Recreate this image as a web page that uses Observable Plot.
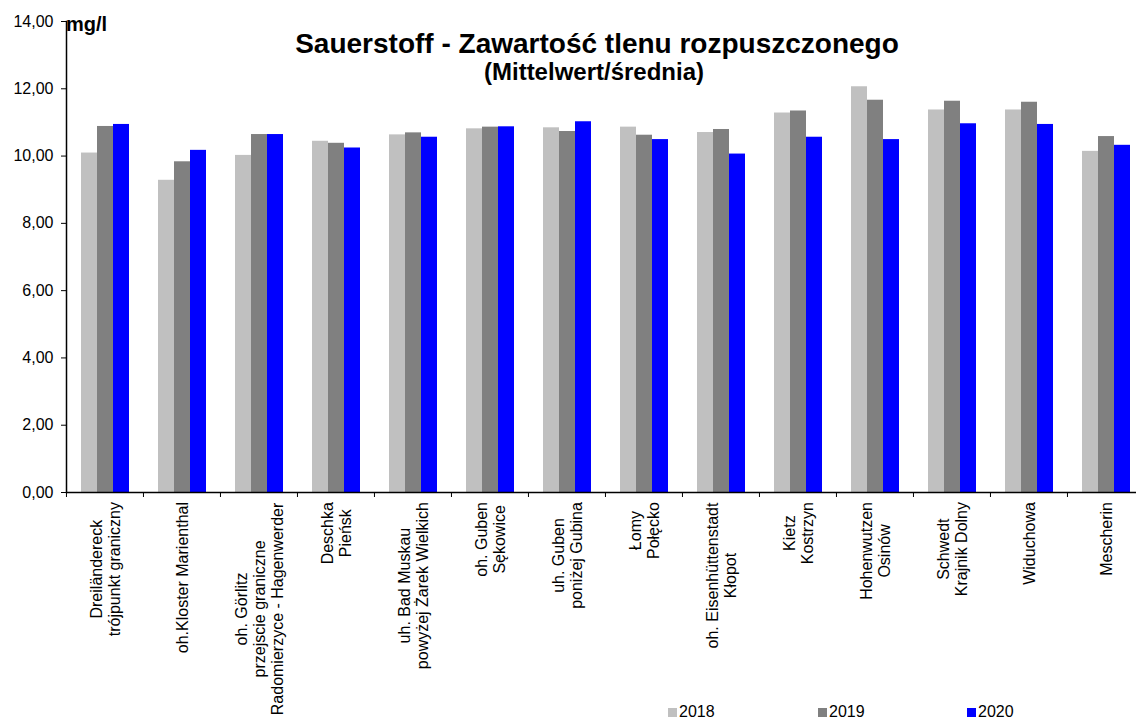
<!DOCTYPE html>
<html><head><meta charset="utf-8">
<script src="https://cdn.jsdelivr.net/npm/d3@7"></script>
<script src="https://cdn.jsdelivr.net/npm/@observablehq/plot@0.6"></script>
<style>
html,body{margin:0;padding:0;background:#fff;overflow:hidden;}
#wrap{position:relative;width:1136px;height:720px;overflow:hidden;font-family:"Liberation Sans",Arial,sans-serif;color:#000;}
#wrap svg{position:absolute;left:0;top:0;}
.t{position:absolute;white-space:nowrap;font-weight:bold;line-height:1;}
.lg{position:absolute;white-space:nowrap;font-size:16px;line-height:1;top:704px;}
.sw{display:inline-block;width:9px;height:9px;margin-right:2px;vertical-align:0px;}
</style></head><body><div id="wrap"></div>
<script>
const stations = [
  "Dreiländereck\ntrójpunkt graniczny",
  "oh.Kloster Marienthal",
  "oh. Görlitz\nprzejscie graniczne\nRadomierzyce - Hagenwerder",
  "Deschka\nPieńsk",
  "uh. Bad Muskau\npowyżej Żarek Wielkich",
  "oh. Guben\nSękowice",
  "uh. Guben\nponiżej Gubina",
  "Łomy\nPołęcko",
  "oh. Eisenhüttenstadt\nKłopot",
  "Kietz\nKostrzyn",
  "Hohenwutzen\nOsinów",
  "Schwedt\nKrajnik Dolny",
  "Widuchowa",
  "Mescherin"
];
const years = ["2018", "2019", "2020"];
const values2018 = [10.09, 9.28, 10.02, 10.44, 10.63, 10.81, 10.84, 10.86, 10.70, 11.28, 12.06, 11.37, 11.37, 10.14];
const values2019 = [10.88, 9.83, 10.64, 10.38, 10.69, 10.86, 10.73, 10.62, 10.79, 11.34, 11.66, 11.63, 11.60, 10.58];
const values2020 = [10.94, 10.17, 10.64, 10.24, 10.56, 10.87, 11.02, 10.49, 10.06, 10.56, 10.49, 10.96, 10.94, 10.32];
const yTicks = [0, 2, 4, 6, 8, 10, 12, 14];
const colors = ["#c0c0c0", "#808080", "#0000ff"];
const title = "Sauerstoff - Zawartość tlenu rozpuszczonego";
const subtitle = "(Mittelwert/średnia)";
const unit = "mg/l";

const series = [values2018, values2019, values2020];
const data = stations.flatMap((s, i) => years.map((y, j) => ({station: s, year: y, value: series[j][i]})));

const W = 1136, H = 720;
const mL = 65, mR = -8, mT = 21, mB = 228;
const step = (W - mL - mR) / stations.length;
const fmt = d => d.toFixed(2).replace(".", ",");

const chart = Plot.plot({
  width: W, height: H,
  marginLeft: mL, marginRight: mR, marginTop: mT, marginBottom: mB,
  style: {fontFamily: "'Liberation Sans', Arial, sans-serif", fontSize: "16px", color: "#000", background: "transparent"},
  fx: {domain: stations, padding: 0, label: null},
  x: {domain: years, paddingInner: 0, paddingOuter: 0.765, axis: null},
  y: {domain: [0, 14], label: null},
  color: {domain: years, range: colors},
  marks: [
    Plot.barY(data, {fx: "station", x: "year", y: "value", fill: "year"}),
    Plot.ruleY([0], {stroke: "#000", strokeWidth: 1.5}),
    Plot.frame({anchor: "left", facetAnchor: "left", stroke: "#000", strokeWidth: 1.5}),
    Plot.axisY({ticks: yTicks, tickFormat: fmt, tickSize: 5, tickPadding: 8, fontSize: 16, label: null, stroke: "#000"}),
    Plot.axisFx({anchor: "bottom", tickSize: 5, tickFormat: () => "", dx: -step / 2, label: null}),
    Plot.axisFx({anchor: "bottom", tickSize: 0, tickPadding: 10, rotate: -90, textAnchor: "middle", lineAnchor: "middle", lineHeight: 1.15, fontSize: 16, label: null})
  ]
});

const wrap = document.getElementById("wrap");
wrap.append(chart);

// Excel-style: label blocks hang from the axis, lines centred within each block
const svgTop = chart.getBoundingClientRect().top;
const labelTop = 502;
d3.select(chart).selectAll('g[aria-label="fx-axis tick label"] text').each(function () {
  const r = this.getBoundingClientRect();
  if (!r.height) return;
  const shift = labelTop - (r.top - svgTop);
  const tr = this.getAttribute("transform") || "";
  this.setAttribute("transform", `translate(0,${shift}) ${tr}`);
});

function addText(txt, cls, css) {
  const d = document.createElement("div");
  d.className = cls; d.textContent = txt;
  Object.assign(d.style, css);
  wrap.append(d);
  return d;
}
addText(title, "t", {fontSize: "28px", left: "597px", top: "30px", transform: "translateX(-50%)"});
addText(subtitle, "t", {fontSize: "24px", left: "594px", top: "60px", transform: "translateX(-50%)"});
addText(unit, "t", {fontSize: "20px", left: "66px", top: "14px"});

const legendX = [668, 818, 967];
years.forEach((y, i) => {
  const d = document.createElement("div");
  d.className = "lg";
  d.style.left = legendX[i] + "px";
  const sw = document.createElement("span");
  sw.className = "sw"; sw.style.background = colors[i];
  d.append(sw, document.createTextNode(y));
  wrap.append(d);
});
</script></body></html>
